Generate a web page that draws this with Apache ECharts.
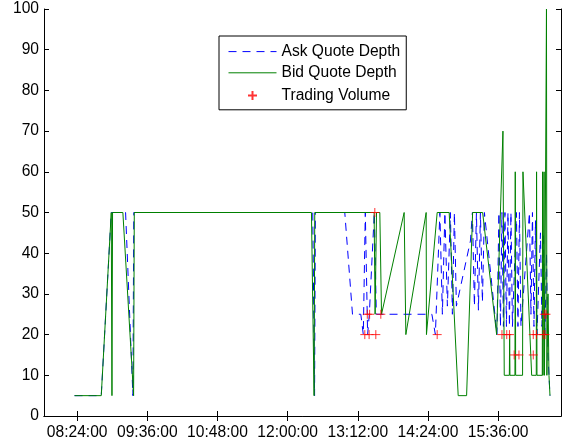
<!DOCTYPE html>
<html>
<head>
<meta charset="utf-8">
<script src="https://cdn.jsdelivr.net/npm/echarts@6/dist/echarts.min.js"></script>
<style>
  html, body { margin: 0; padding: 0; background: #fff; }
  #chart { width: 571px; height: 442px; }
</style>
</head>
<body>
<div id="chart"></div>
<script>
// Quote depths on each side of the book and executed trade sizes through one session.
const askTimes = ['08:21:20','08:48:45','08:59:01','09:13:43','09:21:13','09:22:08','12:25:47','12:27:38','12:28:27','12:58:38','13:06:33','13:15:05','13:17:38','13:19:42','13:22:04','13:23:49','13:28:56','13:31:00','14:28:00','14:31:36','14:36:13','14:38:47','14:41:21','14:43:55','14:47:00','14:49:04','14:51:07','14:53:10','15:07:33','15:09:36','15:11:39','15:13:43','15:15:46','15:17:49','15:19:52','15:21:55','15:34:46','15:36:49','15:38:22','15:39:54','15:41:26','15:42:59','15:44:31','15:46:04','15:47:36','15:49:08','15:50:41','15:54:47','15:56:20','15:57:52','15:59:25','16:08:08','16:09:41','16:11:13','16:12:46','16:14:19','16:15:51','16:19:26','16:20:59','16:22:31','16:24:04','16:25:36','16:27:08','16:29:12'];
const askDepth = [5,5,50,50,5,50,50,5,50,50,25,25,20,50,20,25,50,25,25,20,50,25,50,27,50,25,50,27,43,50,27,50,26,50,28,50,20,50,22,50,22,50,22,50,22,50,22,50,22,50,22,50,25,50,22,48,20,45,22,45,20,40,15,5];

const bidTimes = ['08:21:20','08:48:45','08:59:01','08:59:44','09:00:21','09:10:56','09:21:56','09:22:39','12:24:26','12:27:07','12:27:50','13:28:44','13:29:46','13:31:12','13:34:35','13:36:20','13:59:33','14:01:18','14:22:09','14:22:27','14:33:27','14:45:46','14:55:01','15:03:38','15:09:49','15:20:05','15:34:27','15:40:56','15:42:16','15:47:30','15:47:48','15:48:07','15:53:15','15:53:34','15:53:58','16:01:04','16:01:28','16:10:24','16:15:08','16:15:26','16:15:51','16:21:17','16:21:36','16:22:01','16:22:50','16:23:08','16:23:33','16:25:18','16:25:36','16:26:01','16:27:08','16:28:10','16:29:12'];
const bidDepth = [5,5,50,5,50,50,5,50,50,5,50,50,25,50,50,25,50,20,50,20,50,50,5,5,50,50,20,70,10,10,20,10,10,60,10,10,60,10,10,60,10,10,60,10,10,60,10,10,100,10,30,10,5];

const tradeTimes = ['13:19:11','13:21:45','13:23:36','13:24:07','13:29:28','13:30:29','13:35:37','14:33:27','15:39:54','15:44:50','15:47:36','15:52:26','15:57:22','16:12:03','16:12:03','16:15:20','16:22:19','16:23:20','16:24:04','16:25:05'];
const tradeVolume = [20,25,20,25,50,20,25,20,20,20,20,15,15,15,20,20,20,25,20,25];

const xRange = ['07:50:00', '16:40:30'];
const xTickLabels = ['08:24:00','09:36:00','10:48:00','12:00:00','13:12:00','14:24:00','15:36:00'];
const yRange = [0, 100];
const yStep = 10;
const seriesNames = ['Ask Quote Depth', 'Bid Quote Depth', 'Trading Volume'];

// time strings <-> minutes after midnight
const toMin = s => { const p = s.split(':').map(Number); return p[0] * 60 + p[1] + (p[2] || 0) / 60; };
const hms = v => {
  const t = Math.round(v * 60);
  return [Math.floor(t / 3600), Math.floor(t / 60) % 60, t % 60]
    .map(n => String(n).padStart(2, '0')).join(':');
};
const pairs = (ts, vs) => ts.map((t, i) => [toMin(t), vs[i]]);

const xMin = toMin(xRange[0]);
const xMax = toMin(xRange[1]);
const xTicks = xTickLabels.map(toMin);
const font = 'Liberation Sans';
const fontSize = 15.6;
const askColor = '#0000ff';
const bidColor = '#008000';
const tradeColor = '#ff0000';
const plus = 'path://M0,0M14,14M2.5,7H11.5M7,2.5V11.5';
// a symbol that draws nothing, so the legend shows a bare line sample
const blank = 'path://M0,0M1,1';

const axisLine = { show: true, lineStyle: { color: '#000', width: 1 } };
const tickStyle = { color: '#000', width: 1 };

const chart = echarts.init(document.getElementById('chart'), null, { renderer: 'canvas' });
chart.setOption({
  animation: false,
  backgroundColor: '#fff',
  grid: { left: 44, top: 9, width: 517, height: 407, containLabel: false, outerBoundsMode: 'none' },
  xAxis: [
    {
      type: 'value', position: 'bottom', min: xMin, max: xMax,
      axisLine: axisLine,
      axisTick: { show: true, inside: true, length: 5, customValues: xTicks, lineStyle: tickStyle },
      axisLabel: { customValues: xTicks, formatter: hms, color: '#000', fontSize: fontSize, fontFamily: font, margin: 9 },
      splitLine: { show: false }
    },
    {
      type: 'value', position: 'top', min: xMin, max: xMax,
      axisLine: axisLine,
      axisTick: { show: true, inside: true, length: 5, customValues: xTicks, lineStyle: tickStyle },
      axisLabel: { show: false },
      splitLine: { show: false }
    }
  ],
  yAxis: [
    {
      type: 'value', position: 'left', min: yRange[0], max: yRange[1], interval: yStep,
      axisLine: axisLine,
      axisTick: { show: true, inside: true, length: 5, lineStyle: tickStyle },
      axisLabel: { color: '#000', fontSize: fontSize, fontFamily: font, margin: 5 },
      splitLine: { show: false }
    },
    {
      type: 'value', position: 'right', min: yRange[0], max: yRange[1], interval: yStep,
      axisLine: axisLine,
      axisTick: { show: true, inside: true, length: 5, lineStyle: tickStyle },
      axisLabel: { show: false },
      splitLine: { show: false }
    }
  ],
  legend: {
    left: 219, top: 36, orient: 'vertical',
    padding: [7.6, 6, 4.8, 9],
    itemWidth: 48, itemHeight: 14, itemGap: 5.2,
    borderColor: '#000', borderWidth: 1, borderRadius: 0, backgroundColor: '#fff',
    textStyle: { fontFamily: font, fontSize: fontSize, color: '#000', lineHeight: 14 },
    lineStyle: { width: 1 },
    data: seriesNames,
    selectedMode: false
  },
  series: [
    {
      name: seriesNames[0], type: 'line', symbol: blank, showSymbol: false, z: 2,
      data: pairs(askTimes, askDepth),
      lineStyle: { color: askColor, width: 1, type: [8, 6] },
      itemStyle: { color: askColor }
    },
    {
      name: seriesNames[1], type: 'line', symbol: blank, showSymbol: false, z: 3,
      data: pairs(bidTimes, bidDepth),
      lineStyle: { color: bidColor, width: 1 },
      itemStyle: { color: bidColor }
    },
    {
      name: seriesNames[2], type: 'scatter', symbol: plus, symbolSize: 14, z: 4,
      data: pairs(tradeTimes, tradeVolume),
      itemStyle: { color: 'none', borderColor: tradeColor, borderWidth: 1 }
    }
  ]
});
</script>
</body>
</html>
